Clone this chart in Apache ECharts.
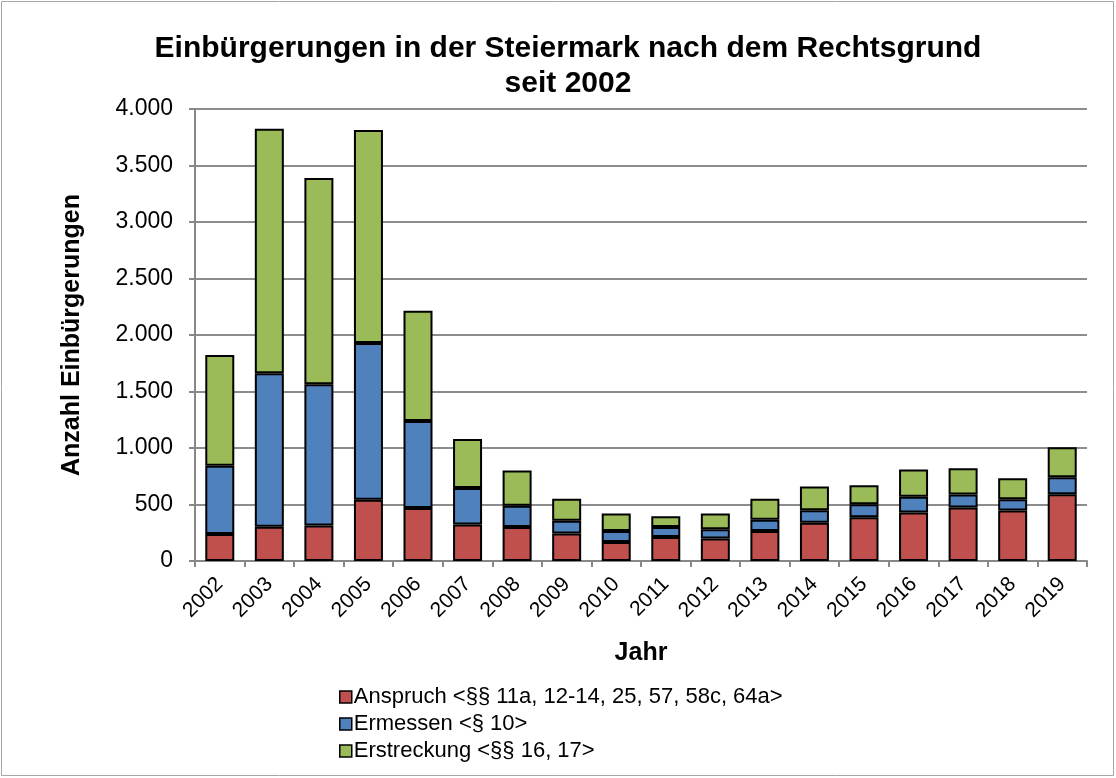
<!DOCTYPE html>
<html>
<head>
<meta charset="utf-8">
<script src="https://cdn.jsdelivr.net/npm/echarts@6/dist/echarts.min.js"></script>
<style>
  html, body { margin: 0; padding: 0; background: #fff; }
  #main { width: 1116px; height: 778px; }
</style>
</head>
<body>
<div id="main"></div>
<script>
// data
const years = ['2002', '2003', '2004', '2005', '2006', '2007', '2008', '2009', '2010',
  '2011', '2012', '2013', '2014', '2015', '2016', '2017', '2018', '2019'];
const anspruch = [238, 303, 315, 541, 468, 322, 300, 244, 168, 212, 200, 265, 338, 388, 429, 474, 447, 591];
const ermessen = [606, 1359, 1250, 1388, 770, 325, 188, 112, 97, 88, 82, 100, 112, 115, 139, 114, 100, 150];
const erstreckung = [980, 2163, 1825, 1886, 977, 433, 312, 194, 155, 97, 138, 185, 209, 167, 241, 232, 185, 265];
const seriesNames = [
  'Anspruch <§§ 11a, 12-14, 25, 57, 58c, 64a>',
  'Ermessen <§ 10>',
  'Erstreckung <§§ 16, 17>'
];
const colors = ['#C0504D', '#4F81BD', '#9BBB59'];

const font = 'Arial, "Liberation Sans", sans-serif';
const fmt = v => v.toLocaleString('de-DE');

const myChart = echarts.init(document.getElementById('main'), null, { renderer: 'canvas' });

const barSeries = [anspruch, ermessen, erstreckung].map((d, i) => ({
  name: seriesNames[i],
  type: 'bar',
  stack: 'total',
  data: d,
  barWidth: 29,
  itemStyle: { color: colors[i], borderColor: '#000', borderWidth: 2 }
}));

myChart.setOption({
  animation: false,
  backgroundColor: '#fff',
  textStyle: { fontFamily: font },
  title: {
    text: 'Einbürgerungen in der Steiermark nach dem Rechtsgrund\nseit 2002',
    left: 563,
    textAlign: 'center',
    top: 26,
    textStyle: { fontSize: 30, fontWeight: 'bold', color: '#000', lineHeight: 35, fontFamily: font }
  },
  graphic: [{
    type: 'rect',
    shape: { x: 1.5, y: 1.5, width: 1112, height: 774 },
    style: { fill: 'none', stroke: '#a6a6a6', lineWidth: 1 },
    silent: true
  }],
  legend: {
    orient: 'vertical',
    left: 334,
    top: 681,
    itemGap: 5,
    itemWidth: 12,
    itemHeight: 12,
    icon: 'rect',
    textStyle: { fontSize: 22, color: '#000', fontFamily: font, padding: [0, 0, 0, -3] },
    itemStyle: { borderColor: '#000', borderWidth: 1.5 }
  },
  grid: { left: 195, right: 29, top: 109, bottom: 217 },
  xAxis: {
    type: 'category',
    data: years,
    name: 'Jahr',
    nameLocation: 'middle',
    nameGap: 80,
    nameTextStyle: { fontSize: 25, fontWeight: 'bold', color: '#000', fontFamily: font },
    axisLine: { lineStyle: { color: '#888', width: 2 } },
    axisTick: { show: true, length: 6, lineStyle: { color: '#888', width: 2 } },
    axisLabel: { rotate: 45, fontSize: 21, color: '#000', margin: 20, fontFamily: font }
  },
  yAxis: {
    type: 'value',
    min: 0,
    max: 4000,
    interval: 500,
    name: 'Anzahl Einbürgerungen',
    nameLocation: 'middle',
    nameGap: 110,
    nameRotate: 90,
    nameTextStyle: { fontSize: 25, fontWeight: 'bold', color: '#000', fontFamily: font },
    axisLine: { show: true, lineStyle: { color: '#888', width: 2 } },
    axisTick: { show: true, length: 6, lineStyle: { color: '#888', width: 2 } },
    axisLabel: { fontSize: 23, color: '#000', margin: 22, formatter: fmt, fontFamily: font },
    splitLine: { lineStyle: { color: '#8c8c8c', width: 2 } }
  },
  series: barSeries
});
</script>
</body>
</html>
